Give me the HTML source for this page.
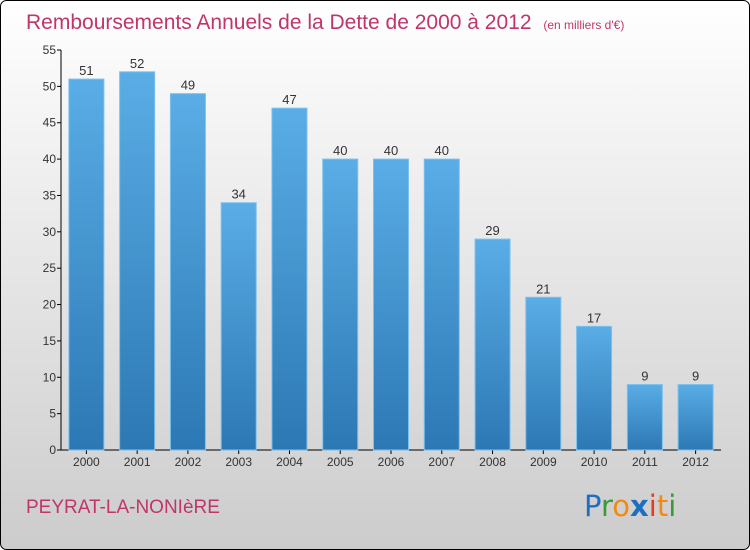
<!DOCTYPE html>
<html><head><meta charset="utf-8"><style>
html,body{margin:0;padding:0;background:#fff}
svg{display:block;font-family:"Liberation Sans",sans-serif}
</style></head><body>
<svg width="750" height="550" viewBox="0 0 750 550">
<defs>
<linearGradient id="bg" x1="0" y1="0" x2="0" y2="1"><stop offset="0" stop-color="#ffffff"/><stop offset="1" stop-color="#cccccc"/></linearGradient>
<linearGradient id="bar" x1="0" y1="0" x2="0" y2="1"><stop offset="0" stop-color="#5aade6"/><stop offset="1" stop-color="#2c78b4"/></linearGradient>
</defs>
<rect x="0.5" y="0.5" width="749" height="549" rx="6" fill="url(#bg)" stroke="#000"/>
<text x="26" y="29" font-size="21" fill="#c0356a">Remboursements Annuels de la Dette de 2000 à 2012 <tspan font-size="12" dx="6">(en milliers d'€)</tspan></text>
<g id="axes"></g>
<g id="bars"></g>
<text x="26" y="513" font-size="19" fill="#c0356a">PEYRAT-LA-NONIèRE</text>
<g font-size="29" font-family="'DejaVu Sans',sans-serif">
<text x="584" y="516"><tspan fill="#1f6fc0">P</tspan><tspan fill="#3a9a3a">r</tspan><tspan fill="#f08a10">o</tspan><tspan fill="#1f6fc0" font-weight="bold">x</tspan><tspan fill="#e83a20">i</tspan><tspan fill="#f08a10">t</tspan><tspan fill="#3a9a3a">i</tspan></text>
</g>
</svg>
<script>
const categories=["2000","2001","2002","2003","2004","2005","2006","2007","2008","2009","2010","2011","2012"];
const values=[51,52,49,34,47,40,40,40,29,21,17,9,9];
const yTicks=[0,5,10,15,20,25,30,35,40,45,50,55];
const NS="http://www.w3.org/2000/svg";
const x0=61,x1=721,yTop=50,yBot=450,yMax=55;
const y=v=>yBot-(v/yMax)*(yBot-yTop);
const step=(x1-x0)/categories.length;
const xc=i=>x0+step*(i+0.5);
function mk(t,a,p){const e=document.createElementNS(NS,t);for(const k in a)e.setAttribute(k,a[k]);p.appendChild(e);return e;}
const ax=document.getElementById('axes'),bg=document.getElementById('bars');
let l=mk('line',{x1:x0,y1:yTop,x2:x0,y2:yBot,stroke:'#000'},ax);


l=mk('line',{x1:x0,y1:yBot,x2:x1,y2:yBot,stroke:'#000'},ax);


yTicks.forEach(v=>{
 mk('line',{x1:x0-4,y1:y(v),x2:x0,y2:y(v),stroke:'#000'},ax);
 const t=mk('text',{x:x0-5,y:y(v)+4,'font-size':12,fill:'#333','text-anchor':'end'},ax);
 t.textContent=v;
 
 
});
categories.forEach((c,i)=>{
 mk('line',{x1:xc(i),y1:yBot,x2:xc(i),y2:yBot+4,stroke:'#000'},ax);
 const t=mk('text',{x:xc(i),y:yBot+16,'font-size':12,fill:'#333','text-anchor':'middle'},ax);
 t.textContent=c;
 
 
 const r=mk('rect',{x:xc(i)-17.5,y:y(values[i]),width:35,height:yBot-y(values[i]),fill:'url(#bar)',stroke:'#7cc0ee','stroke-width':1},bg);
 
 
 const vt=mk('text',{x:xc(i),y:y(values[i])-4,'font-size':13,fill:'#333','text-anchor':'middle'},bg);
 vt.textContent=values[i];
 
 
});
</script>
</body></html>
